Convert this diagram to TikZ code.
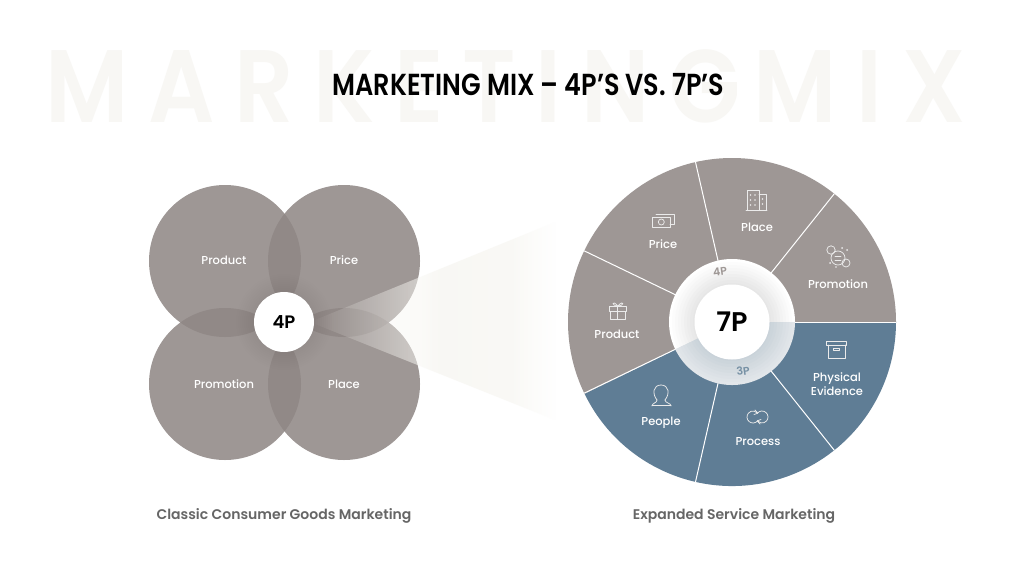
\documentclass[tikz,border=0pt]{standalone}
\usepackage{fontspec}
\setmainfont{Poppins}
\newfontfamily\medfont{Poppins Medium}
\newfontfamily\semifont{Poppins SemiBold}
\newfontfamily\titlefont[FakeStretch=0.84]{Poppins SemiBold}
\newfontfamily\wmfont[LetterSpace=19,FakeStretch=0.9]{Poppins SemiBold}
\definecolor{pgray}{HTML}{9E9795}
\definecolor{plens}{HTML}{918987}
\definecolor{pblue}{HTML}{5F7D95}
\definecolor{wm}{HTML}{F8F7F4}
\definecolor{beam}{HTML}{F8F7F3}
\definecolor{caption}{HTML}{666666}
\definecolor{ringA}{HTML}{FFFFFF}
\definecolor{ringB}{HTML}{E6E6E6}
\definecolor{ringC}{HTML}{E2E6EA}
\definecolor{ringD}{HTML}{C9D2D9}
\tikzset{
  lbl/.style={text=white,font=\medfont\fontsize{11.5}{14}\selectfont,align=center,inner sep=0pt},
  disc/.style={fill=white,draw=none,inner sep=0pt,circle},
  captext/.style={text=caption,font=\semifont\fontsize{14}{17}\selectfont,inner sep=0pt},
  ico/.style={draw=white!92!black,line width=0.75pt,fill=none,line join=round,line cap=round},
  seg/.style={draw=white,line width=1pt}
}
\newcommand{\sect}[4]{\fill[#4] (732,322) -- ++(-#1:#3) arc[start angle=-#1,end angle=-#2,radius=#3] -- cycle;}
\begin{document}
\begin{tikzpicture}[x=1pt,y=-1pt]
\useasboundingbox (0,0) rectangle (1024,576);
\fill[white] (0,0) rectangle (1024,576);
\node (wmark) at (505.5,86) [text=wm,inner sep=0pt,font=\wmfont\fontsize{103}{103}\selectfont] {MARKETING\hspace{-28pt} MIX};
\node (title) at (528.5,85) [inner sep=0pt,font=\titlefont\fontsize{30.4}{36}\selectfont] {MARKETING MIX – 4P’S VS. 7P’S};
% four circles
\foreach \p in {(225,261),(344,261),(225,384),(344,384)} \fill[pgray] \p circle[radius=76];
\begin{scope}\clip (225,261) circle[radius=76];\fill[plens] (344,261) circle[radius=76];\fill[plens] (225,384) circle[radius=76];\end{scope}
\begin{scope}\clip (344,384) circle[radius=76];\fill[plens] (344,261) circle[radius=76];\fill[plens] (225,384) circle[radius=76];\end{scope}
% beam, as strips of rising and falling opacity
\begin{scope}
\clip (310,322) -- (555,222) -- (555,420) -- cycle;
\foreach \x in {310,312,...,554} {
  \pgfmathsetmacro\al{\x<420 ? 0.55*(\x-310)/110 : (\x<440 ? 0.55+0.35*(\x-420)/20 : (\x<510 ? 0.9-0.1*(\x-440)/70 : 0.8*(555-\x)/45))}
  \fill[beam,opacity=\al] (\x,200) rectangle (\x+2,440);
}
\end{scope}
\foreach \r in {48,46,...,30} \fill[black,opacity=0.005] (284,322) circle[radius=\r];
\node[lbl] (l1) at (224,260.5) {Product};
\node[lbl] (l2) at (344,260.5) {Price};
\node[lbl] (l3) at (224,384.5) {Promotion};
\node[lbl] (l4) at (344,384.5) {Place};
\node[disc,minimum size=60pt,font=\semifont\fontsize{18}{20}\selectfont] (c4) at (284,322) {4P};
% pie
\sect{0}{206}{164}{pgray}
\sect{206}{360}{164}{pblue}
\foreach \a in {0,51.43,102.86,154.29,205.71,257.14,308.57}
  \draw[seg] (732,322) -- ++(-\a:164);
% ring
\foreach \r/\t in {63/0,60/12,57/25,54/37,51/50,48/62,45/75,42/87,39/100} {
  \sect{0}{205.71}{\r}{ringB!\t!ringA}
  \sect{205.71}{360}{\r}{ringD!\t!ringC}
}
\node[disc,minimum size=75pt,font=\semifont\fontsize{27}{30}\selectfont] (c7) at (732,322) {7P};
\node (t4) at (720,272) [rotate=8,text=pgray,inner sep=0pt,font=\semifont\fontsize{11}{12}\selectfont] {4P};
\node (t3) at (743,371) [rotate=8,text=pblue!85!white,inner sep=0pt,font=\semifont\fontsize{11}{12}\selectfont] {3P};
\node[lbl] (a1) at (663,244) {Price};
\node[lbl] (a2) at (757,227) {Place};
\node[lbl] (a3) at (838,284) {Promotion};
\node[lbl] (a4) at (617,334) {Product};
\node[lbl] (a5) at (837,384) {Physical\\Evidence};
\node[lbl] (a6) at (661,422.5) {People};
\node[lbl] (a7) at (758,442) {Process};
\node[captext] (cap1) at (284,516) {Classic Consumer Goods Marketing};
\node[captext] (cap2) at (734,516) {Expanded Service Marketing};
% icons
% money
\draw[ico] (652.5,217) rectangle (670,227);
\draw[ico] (656,214) -- (674,214) -- (674,224) -- (670,224);
\draw[ico] (661.3,222) circle[radius=3];
% building
\draw[ico] (747,210) -- (747,190) -- (759,190) -- (759,210);
\draw[ico] (759,194) -- (766,194) -- (766,210);
\draw[ico] (746,210.5) -- (767,210.5);
\foreach \x in {750.5,755}\foreach \y in {195,200,205} \fill[white!92!black] (\x,\y) circle[radius=0.8];
\foreach \y in {199,204} \fill[white!92!black] (762.5,\y) circle[radius=0.8];
% promotion faces
\draw[ico] (838,258) circle[radius=7];
\draw[ico] (831,250) circle[radius=4.2];
\draw[ico] (846,263) circle[radius=4];
\draw[ico] (835,256) -- (841,256) (835,260) -- (841,260);
\fill[white!92!black] (842,248) circle[radius=1] (847,250) circle[radius=1] (830,263) circle[radius=1] (836,267) circle[radius=.8];
% gift
\draw[ico] (610,311) rectangle (625.5,319);
\draw[ico] (609.5,306.5) rectangle (626,311);
\draw[ico] (617.8,306.5) -- (617.8,319);
\draw[ico] (617.8,306) .. controls (612,299) and (611,306) .. (617.8,306) .. controls (624,299) and (625,306) .. (617.8,306);
% box
\draw[ico] (826.5,341) rectangle (846.5,345);
\draw[ico] (828,345) -- (828,358) -- (845,358) -- (845,345);
\draw[ico] (833.5,348) rectangle (839.5,350.5);
% person
\draw[ico] (657,400) .. controls (652,394) and (653,385) .. (661,385) .. controls (669,385) and (670,394) .. (665,400);
\draw[ico] (657,400) .. controls (657,403) and (652,403) .. (652,406) (665,400) .. controls (665,403) and (671,403) .. (671,406);
\draw[ico] (652,405.5) -- (671,405.5);
% cycle
\draw[ico] (753,417) ++(40:6) arc[start angle=40,end angle=320,radius=6];
\draw[ico] (762,417) ++(220:6) arc[start angle=220,end angle=500,radius=6];
\draw[ico] (755,410) -- (757.8,413.2) -- (754,414.5);
\draw[ico] (760,424) -- (757.2,420.8) -- (761,419.5);
\end{tikzpicture}
\end{document}
